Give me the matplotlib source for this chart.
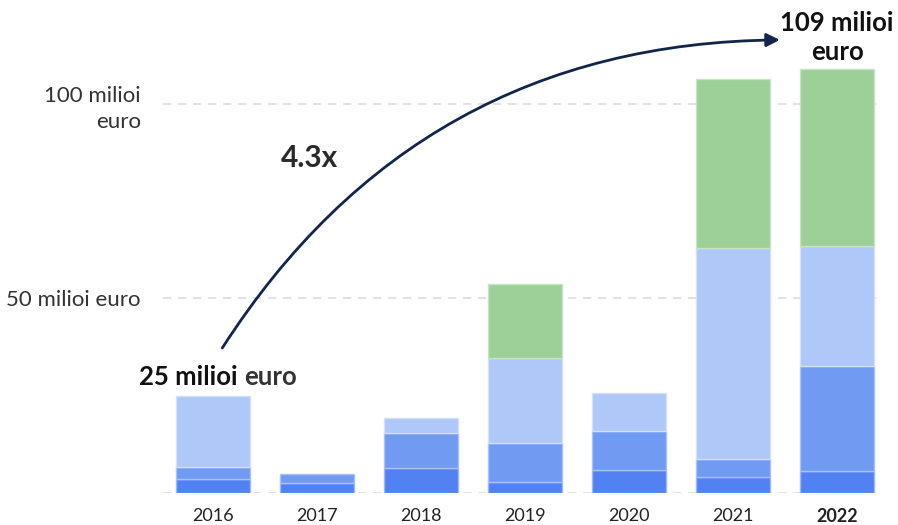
import matplotlib
matplotlib.use("Agg")
import matplotlib.pyplot as plt
import numpy as np

years = ["2016", "2017", "2018", "2019", "2020", "2021", "2022"]
seg_dark = [3.4, 2.4, 6.4, 2.8, 5.8, 3.9, 5.5]
seg_medium = [3.1, 2.4, 8.9, 9.9, 10.0, 4.7, 27.0]
seg_light = [18.4, 0.0, 4.0, 22.0, 9.9, 54.3, 30.9]
seg_green = [0.0, 0.0, 0.0, 18.9, 0.0, 43.5, 45.7]
ytick_vals = [0, 50, 100]
ytick_labels = ["", "50 milioi euro", "100 milioi\neuro"]

colors = ["#5282F2", "#719AF3", "#B0C8F8", "#9DCF98"]
edges = ["#9DB8F7", "#A9C1F7", "#D2E0FB", "#C6E4C2"]

plt.rcParams['font.family'] = ['Lato', 'DejaVu Sans']

fig = plt.figure(figsize=(8.98, 5.25), dpi=100)
ax = fig.add_axes([0.1815, 0.0619, 0.8005, 0.851])

x = np.arange(len(years))
bottom = np.zeros(len(years))
for vals, c, ec in zip([seg_dark, seg_medium, seg_light, seg_green], colors, edges):
    v = np.array(vals)
    mask = v > 0
    ax.bar(x[mask], v[mask], bottom=bottom[mask], width=0.71, color=c,
           edgecolor=ec, linewidth=1.0, zorder=3)
    bottom = bottom + v

ax.set_xlim(-0.48, 6.43)
ax.set_ylim(0, 115)
for yv in ytick_vals:
    ax.axhline(yv, color="#DDDDDD", lw=1.2, ls=(0, (5, 4)), zorder=1)

ax.set_yticks(ytick_vals)
ax.set_yticklabels(ytick_labels, fontsize=16, color="#333333", ha="right",
                   linespacing=1.4)
ax.set_xticks(x)
ax.set_xticklabels(years, fontsize=13, color="#222222")
ax.get_xticklabels()[-1].set_fontweight("bold")
ax.tick_params(axis="both", length=0)
ax.tick_params(axis="y", pad=16)
ax.tick_params(axis="x", pad=11)
for s in ax.spines.values():
    s.set_visible(False)

# annotations
t1 = ax.text(-0.71, 29.8, "25 milioi ", fontsize=18.5, fontweight="bold",
             color="#111111", ha="left", va="center")
fig.canvas.draw()
bb = t1.get_window_extent()
xr = ax.transData.inverted().transform((bb.x1, bb.y0))[0]
ax.text(xr, 29.8, "euro", fontsize=18.5, fontweight="bold",
        color="#333333", ha="left", va="center")
ax.text(6.0, 117.2, "109 milioi\neuro", fontsize=18.5, fontweight="bold",
        color="#111111", ha="center", va="center", linespacing=1.25,
        multialignment="center")
ax.text(0.93, 86.2, "4.3x", fontsize=21.5, fontweight="bold",
        color="#2a2a2a", ha="center", va="center")

ax.annotate("", xy=(5.45, 116.5), xytext=(0.09, 37.2),
            xycoords="data", textcoords="data", annotation_clip=False,
            arrowprops=dict(arrowstyle="-|>,head_length=0.8,head_width=0.4",
                            color="#13254A", lw=2,
                            connectionstyle="arc3,rad=-0.27",
                            shrinkA=0, shrinkB=0))

fig.savefig("out.png", dpi=100)
